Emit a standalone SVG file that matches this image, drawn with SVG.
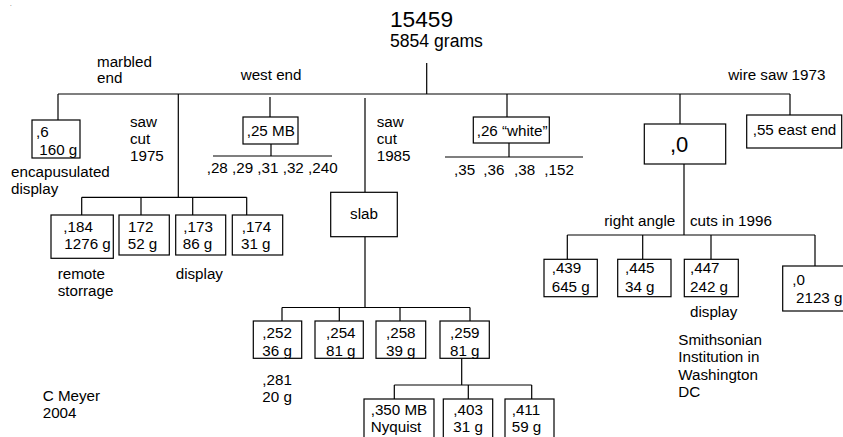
<svg xmlns="http://www.w3.org/2000/svg" width="843" height="437" viewBox="0 0 843 437">
<style>
text{font-family:"Liberation Sans",Arial,sans-serif;font-size:15.2px;fill:#000}
.box{fill:#fff;stroke:#000;stroke-width:1.2}
.c{fill:none;stroke:#000;stroke-width:1.2}
.title{font-size:22.7px}
.sub{font-size:17.6px}
.big{font-size:22px}
</style>
<rect width="843" height="437" fill="#fff"/>
<text x="10" y="6" style="font-size:6px">.</text>
<g id="connectors" class="c">
<path d="M426.7,63 V94 M58,94 H790 M58,94 V120 M178.3,94 V197.3 M270,97 V117 M365,98 V192 M507,94 V117 M680,94 V124 M790,94 V115"/>
<path d="M271,144 V156 M213,156 H332"/>
<path d="M509,143 V157 M445,157 H583"/>
<path d="M81.7,197.3 H246.7 M81.7,197.3 V215 M141,197.3 V215 M192.7,197.3 V215 M246.7,197.3 V215"/>
<path d="M365,237 V307.5 M282,307.5 H470 M282,307.5 V321 M339.3,307.5 V321 M400,307.5 V321 M470,307.5 V321"/>
<path d="M461.7,358 V385 M394.3,385 H531.7 M394.3,385 V399 M468.3,385 V399 M531.7,385 V399"/>
<path d="M684,164 V235 M567.3,235 H815 M567.3,235 V259 M642.7,235 V259 M711,235 V259 M815,235 V266"/>
</g>
<g id="root"><text class="title" x="390" y="27">15459</text><text class="sub" x="390" y="46.5">5854 grams</text></g>
<g id="labels">
<text x="97" y="66.5">marbled</text><text x="97" y="83">end</text>
<text x="240.7" y="80">west end</text>
<text x="728.3" y="80">wire saw 1973</text>
<text x="130" y="127">saw</text><text x="130" y="144">cut</text><text x="130" y="161">1975</text>
<text x="376.7" y="127">saw</text><text x="376.7" y="144">cut</text><text x="376.7" y="161">1985</text>
<text x="11" y="177.3">encapusulated</text><text x="11" y="193.5">display</text>
<text x="206.7" y="173.3">,28 ,29 ,31 ,32 ,240</text>
<text y="175"><tspan x="454">,35</tspan><tspan x="483.3">,36</tspan><tspan x="514">,38</tspan><tspan x="544.3">,152</tspan></text>
<text x="57.7" y="279.3">remote</text><text x="57.7" y="295.5">storrage</text>
<text x="175.7" y="279.3">display</text>
<text x="604.3" y="226">right angle</text><text x="690" y="226">cuts in 1996</text>
<text x="690" y="317">display</text>
<text x="678.3" y="345">Smithsonian</text><text x="678.3" y="362">Institution in</text><text x="678.3" y="379.5">Washington</text><text x="678.3" y="396.5">DC</text>
<text x="262.3" y="385">,281</text><text x="262.3" y="401.7">20 g</text>
<text x="42.7" y="401">C Meyer</text><text x="42.7" y="418.3">2004</text>
</g>
<g id="n6"><rect class="box" x="32" y="120" width="48" height="38"/><text x="36" y="137">,6</text><text x="39.3" y="155">160 g</text></g>
<g id="n25"><rect class="box" x="243" y="117" width="55" height="27"/><text x="246.7" y="136">,25 MB</text></g>
<g id="n26"><rect class="box" x="473.3" y="117" width="76" height="26"/><text x="476.7" y="136">,26 “white”</text></g>
<g id="n0"><rect class="box" x="644.3" y="124" width="81.4" height="40"/><text class="big" x="670" y="151.7">,0</text></g>
<g id="n55"><rect class="box" x="746.7" y="115" width="95" height="33"/><text x="752.7" y="135">,55 east end</text></g>
<g id="slab"><rect class="box" x="330.7" y="192.3" width="66.6" height="44.4"/><text x="364" y="218.7" text-anchor="middle">slab</text></g>
<g id="n184"><rect class="box" x="51" y="215" width="62.3" height="43.3"/><text x="63.3" y="231.7">,184</text><text x="64.3" y="249.3">1276 g</text></g>
<g id="n172"><rect class="box" x="119" y="215" width="50.3" height="40"/><text x="128" y="231.7">172</text><text x="127.7" y="249.3">52 g</text></g>
<g id="n173"><rect class="box" x="175.7" y="215" width="50" height="40"/><text x="183.3" y="231.7">,173</text><text x="182.7" y="249.3">86 g</text></g>
<g id="n174"><rect class="box" x="232.3" y="215" width="50.4" height="40"/><text x="241.7" y="231.7">,174</text><text x="241" y="249.3">31 g</text></g>
<g id="n252"><rect class="box" x="253.3" y="321" width="48.4" height="37.3"/><text x="262.3" y="338.3">,252</text><text x="262.3" y="355.7">36 g</text></g>
<g id="n254"><rect class="box" x="315" y="321" width="48.3" height="37.3"/><text x="326" y="338.3">,254</text><text x="326" y="355.7">81 g</text></g>
<g id="n258"><rect class="box" x="376" y="321" width="49.7" height="37.3"/><text x="386" y="338.3">,258</text><text x="386" y="355.7">39 g</text></g>
<g id="n259"><rect class="box" x="440" y="321" width="49.3" height="37.3"/><text x="450" y="338.3">,259</text><text x="450" y="355.7">81 g</text></g>
<g id="n350"><rect class="box" x="364" y="399" width="70" height="42"/><text x="370.7" y="415">,350 MB</text><text x="370.7" y="431.7">Nyquist</text></g>
<g id="n403"><rect class="box" x="443.3" y="399" width="49.4" height="42"/><text x="453.3" y="415">,403</text><text x="453.3" y="431.7">31 g</text></g>
<g id="n411"><rect class="box" x="505" y="399" width="49" height="42"/><text x="511.7" y="415">,411</text><text x="511.7" y="431.7">59 g</text></g>
<g id="n439"><rect class="box" x="544" y="259.3" width="53.3" height="37.4"/><text x="551.7" y="273.3">,439</text><text x="551.7" y="291.7">645 g</text></g>
<g id="n445"><rect class="box" x="617.7" y="259.3" width="53.3" height="37.4"/><text x="625" y="273.3">,445</text><text x="625" y="291.7">34 g</text></g>
<g id="n447"><rect class="box" x="684.3" y="259.3" width="54" height="37.4"/><text x="690" y="273.3">,447</text><text x="690" y="291.7">242 g</text></g>
<g id="n0b"><rect class="box" x="782.7" y="266" width="64" height="45"/><text x="792.3" y="285">,0</text><text x="796" y="303.3">2123 g</text></g>
</svg>
